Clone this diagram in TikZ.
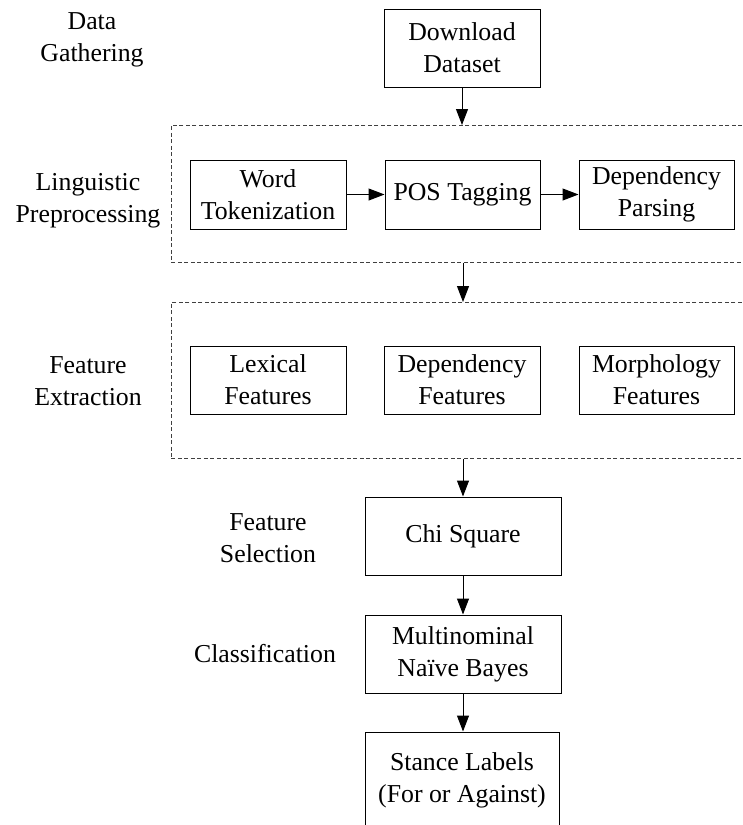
\documentclass[tikz,border=0pt]{standalone}
\usepackage{fontspec}
\setmainfont{Liberation Serif}
\usetikzlibrary{arrows.meta}
\begin{document}
\begin{tikzpicture}[x=1pt,y=-1pt,
  every node/.style={font=\fontsize{25.8}{31.7}\selectfont, align=center, inner sep=0pt},
  procbox/.style={draw, line width=1pt, minimum height=#1},
  procbox/.default=78pt,
  groupbox/.style={draw=black!75, line width=0.9pt, dash pattern=on 4pt off 2.5pt, anchor=north west, minimum width=620pt},
  arr/.style={line width=1pt, -{Triangle[length=16pt,width=12pt]}}
]
\useasboundingbox (0,0) rectangle (742,825);
\clip (0,0) rectangle (742,825);

% group boxes
\node[groupbox, minimum height=137pt] (g1) at (171,125) {};
\node[groupbox, minimum height=156pt] (g2) at (171,302) {};

% process boxes
\node[procbox, minimum width=156pt] (dl) at (462,48) {Download\\Dataset};
\node[procbox=69pt, minimum width=156pt] (wt) at (268,194.5) {Word\\Tokenization};
\node[procbox=69pt, minimum width=155pt] (pos) at (462.5,194.5) {POS Tagging};
\node[procbox=69pt, minimum width=155pt] (dp) at (656.5,194.5) {Dependency\\Parsing};
\node[procbox=68pt, minimum width=156pt] (lex) at (268,380) {Lexical\\Features};
\node[procbox=68pt, minimum width=156pt] (depf) at (462,380) {Dependency\\Features};
\node[procbox=68pt, minimum width=155pt] (morph) at (656.5,380) {Morphology\\Features};
\node[procbox, minimum width=196pt] (chi) at (463,536) {Chi Square};
\node[procbox, minimum width=196pt] (mnb) at (463,654) {Multinominal\\Na\"ive Bayes};
\node[procbox=96pt, minimum width=194pt] (st) at (462,780) {Stance Labels\\(For or Against)};

% stage labels
\node (l1) at (92,40) {Data\\Gathering};
\node (l2) at (88,201) {Linguistic\\Preprocessing};
\node (l3) at (88,381) {Feature\\Extraction};
\node (l4) at (268,538) {Feature\\Selection};
\node (l5) at (265,654) {Classification};

% connectors
\draw[arr] (dl.south) -- (dl.south |- g1.north);
\draw[arr] (g1.south -| chi.north) -- (g2.north -| chi.north);
\draw[arr] (g2.south -| chi.north) -- (chi.north);
\draw[arr] (chi) -- (mnb);
\draw[arr] (mnb.south) -- (mnb.south |- st.north);
\draw[arr] (wt) -- (pos);
\draw[arr] (pos) -- (dp);
\end{tikzpicture}
\end{document}
